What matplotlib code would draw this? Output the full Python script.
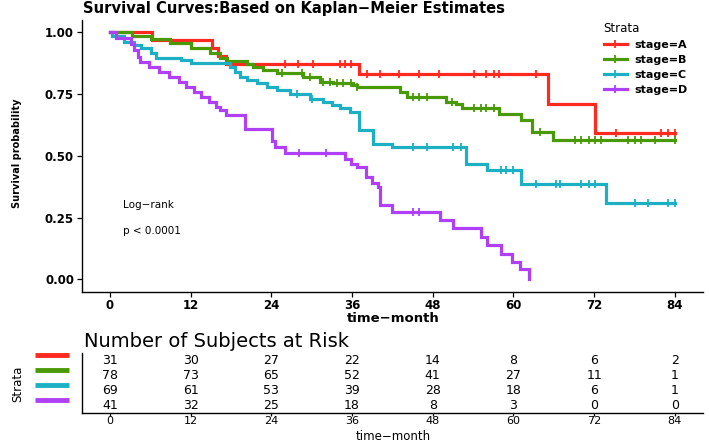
import matplotlib
matplotlib.use('Agg')
import matplotlib.pyplot as plt
import numpy as np
from matplotlib.transforms import blended_transform_factory
from matplotlib.lines import Line2D

plt.rcParams['font.family'] = ['DejaVu Sans']

# ---------------- data ----------------
strata = ['stage=A', 'stage=B', 'stage=C', 'stage=D']
colors = ['#FF2A1F', '#4A9A08', '#1CB0C2', '#B040F8']

A_times = [6.3, 15.2, 16.0, 17.2, 37.1, 65.1, 72.2]
A_surv = [0.968, 0.935, 0.903, 0.871, 0.830, 0.710, 0.594]
A_censor = [26.0, 28.0, 30.2, 34.2, 34.9, 35.9, 38.2, 40.1, 43.0, 46.0, 49.0,
            54.1, 55.9, 57.1, 57.8, 63.3, 75.2, 82.0, 83.0, 84.0]

B_times = [3.3, 6.1, 9.0, 12.0, 14.9, 16.4, 17.4, 20.4, 21.3, 22.8, 24.8, 28.7,
           31.2, 33.1, 36.1, 36.8, 43.2, 44.2, 50.0, 51.5, 52.4, 57.8, 61.1,
           62.7, 65.9]
B_surv = [0.987, 0.972, 0.955, 0.935, 0.915, 0.898, 0.883, 0.870, 0.860, 0.847,
          0.836, 0.820, 0.800, 0.793, 0.786, 0.779, 0.759, 0.739, 0.718, 0.710,
          0.692, 0.671, 0.644, 0.597, 0.565]
B_censor = [25.6, 28.5, 29.7, 31.7, 32.7, 33.7, 34.7, 35.9, 36.8, 45.0, 46.0,
            47.2, 50.9, 54.1, 55.2, 55.9, 57.1, 64.0, 69.2, 70.1, 71.2, 72.2,
            73.1, 77.1, 78.1, 79.0, 81.1, 84.0]

C_times = [0.3, 2.1, 3.6, 4.6, 6.1, 6.8, 10.5, 12.0, 17.9, 18.6, 19.4, 20.4,
           21.9, 23.4, 24.8, 26.8, 29.7, 31.7, 33.0, 34.2, 35.7, 37.1, 39.1,
           42.0, 53.0, 56.1, 61.1, 73.8]
C_surv = [0.986, 0.962, 0.948, 0.935, 0.915, 0.896, 0.888, 0.874, 0.860, 0.840,
          0.820, 0.806, 0.793, 0.779, 0.766, 0.752, 0.732, 0.718, 0.705, 0.692,
          0.678, 0.603, 0.549, 0.536, 0.468, 0.444, 0.387, 0.311]
C_censor = [27.8, 30.0, 45.0, 47.1, 51.0, 52.2, 58.1, 58.9, 60.0, 63.3, 66.3,
            67.0, 70.1, 71.2, 72.2, 78.1, 80.0, 83.0, 84.0]

D_times = [0.9, 3.1, 3.6, 4.1, 4.4, 5.8, 7.3, 8.8, 10.2, 11.3, 12.5, 13.6, 14.7,
           15.7, 16.3, 17.2, 20.1, 24.1, 24.6, 26.0, 34.9, 35.9, 36.7, 38.1,
           38.9, 39.8, 40.1, 42.0, 49.1, 51.0, 55.2, 56.1, 58.1, 59.8, 61.0, 62.3]
D_surv = [0.976, 0.951, 0.927, 0.902, 0.878, 0.858, 0.838, 0.818, 0.798, 0.779,
          0.759, 0.739, 0.718, 0.698, 0.685, 0.664, 0.610, 0.561, 0.536, 0.512,
          0.489, 0.468, 0.455, 0.414, 0.390, 0.373, 0.300, 0.272, 0.240, 0.207,
          0.172, 0.138, 0.103, 0.069, 0.040, 0.0]
D_censor = [28.1, 32.2, 45.0, 46.0]

risk_times = [0, 12, 24, 36, 48, 60, 72, 84]
A_risk = [31, 30, 27, 22, 14, 8, 6, 2]
B_risk = [78, 73, 65, 52, 41, 27, 11, 1]
C_risk = [69, 61, 53, 39, 28, 18, 6, 1]
D_risk = [41, 32, 25, 18, 8, 3, 0, 0]

curves = [(A_times, A_surv, A_censor, 84.0),
          (B_times, B_surv, B_censor, 84.0),
          (C_times, C_surv, C_censor, 84.0),
          (D_times, D_surv, D_censor, None)]
risks = [A_risk, B_risk, C_risk, D_risk]

# ---------------- figure ----------------
W, H = 709, 443
fig = plt.figure(figsize=(W / 100, H / 100), dpi=100)


def fx(px):
    return px / W


def fy(py):
    return 1 - py / H


ax = fig.add_axes([fx(81.7), fy(291.7), (703 - 81.7) / W, (291.7 - 20) / H])
ax.set_xlim(-4.2, 88.2)
ax.set_ylim(-0.05, 1.05)

for (times, surv, cens, end), col, lab in zip(curves, colors, strata):
    xs = [0.0] + list(times)
    ys = [1.0] + list(surv)
    if end is not None:
        xs.append(end)
        ys.append(ys[-1])
    ax.step(xs, ys, where='post', color=col, lw=2.3, solid_joinstyle='miter')
    t_arr = np.array([0.0] + list(times))
    s_arr = np.array([1.0] + list(surv))
    idx = np.searchsorted(t_arr, cens, side='right') - 1
    ax.plot(cens, s_arr[idx], ls='none', marker='|', ms=6, mew=1.3, color=col)

for s in ['top', 'right']:
    ax.spines[s].set_visible(False)
for s in ['left', 'bottom']:
    ax.spines[s].set_linewidth(1.0)
ax.set_xticks(risk_times)
ax.set_yticks([0, 0.25, 0.5, 0.75, 1.0])
ax.set_yticklabels(['0.00', '0.25', '0.50', '0.75', '1.00'])
ax.tick_params(length=3.5, width=0.9, labelsize=8.5, pad=2)
for lbl in ax.get_xticklabels() + ax.get_yticklabels():
    lbl.set_fontweight('bold')

ax.text(1.9, 0.30, 'Log\u2212rank', fontsize=7.5, ha='left', va='center')
ax.text(1.9, 0.195, 'p < 0.0001', fontsize=7.5, ha='left', va='center')

handles = [Line2D([0], [0], color=c, lw=2.3, marker='|', ms=6, mew=1.3) for c in colors]
leg = ax.legend(handles, strata, loc='upper left', bbox_to_anchor=(fx(598), fy(16)),
                bbox_transform=fig.transFigure, frameon=False, title='Strata',
                prop={'weight': 'bold', 'size': 8}, title_fontsize=8.5,
                handlelength=2.1, handletextpad=0.7, labelspacing=0.45,
                borderpad=0, alignment='left')

fig.text(fx(83), fy(9), 'Survival Curves:Based on Kaplan\u2212Meier Estimates',
         ha='left', va='center', fontsize=10.6, fontweight='bold')
fig.text(fx(17), fy(153), 'Survival probability', rotation=90, ha='center',
         va='center', fontsize=7, fontweight='bold')
fig.text(fx(393), fy(318), 'time\u2212month', ha='center', va='center',
         fontsize=9.5, fontweight='bold')

# ---------------- risk table ----------------
rax = fig.add_axes([fx(81.7), fy(413), (703 - 81.7) / W, (413 - 353) / H])
rax.set_xlim(-4.2, 88.2)
rax.set_ylim(0.5, 4.5)
for s in ['top', 'right']:
    rax.spines[s].set_visible(False)
for s in ['left', 'bottom']:
    rax.spines[s].set_linewidth(1.0)
rax.set_yticks([])
rax.set_xticks(risk_times)
rax.tick_params(length=2, width=0.9, labelsize=8, pad=0.3)

for i, vals in enumerate(risks):
    for t, v in zip(risk_times, vals):
        rax.text(t, 4 - i, str(v), ha='center', va='center', fontsize=9)

tr = blended_transform_factory(fig.transFigure, rax.transData)
for i, c in enumerate(colors):
    rax.plot([fx(35), fx(69)], [4 - i + 0.4, 4 - i + 0.4], color=c, lw=3.5,
             transform=tr, clip_on=False, solid_capstyle='butt')

fig.text(fx(84), fy(341.5), 'Number of Subjects at Risk', ha='left', va='center',
         fontsize=14)
fig.text(fx(18), fy(384), 'Strata', rotation=90, ha='center', va='center',
         fontsize=8.5)
fig.text(fx(393), fy(442.8), 'time\u2212month', ha='center', va='bottom',
         fontsize=8.5)

fig.savefig('out.png', dpi=100)
